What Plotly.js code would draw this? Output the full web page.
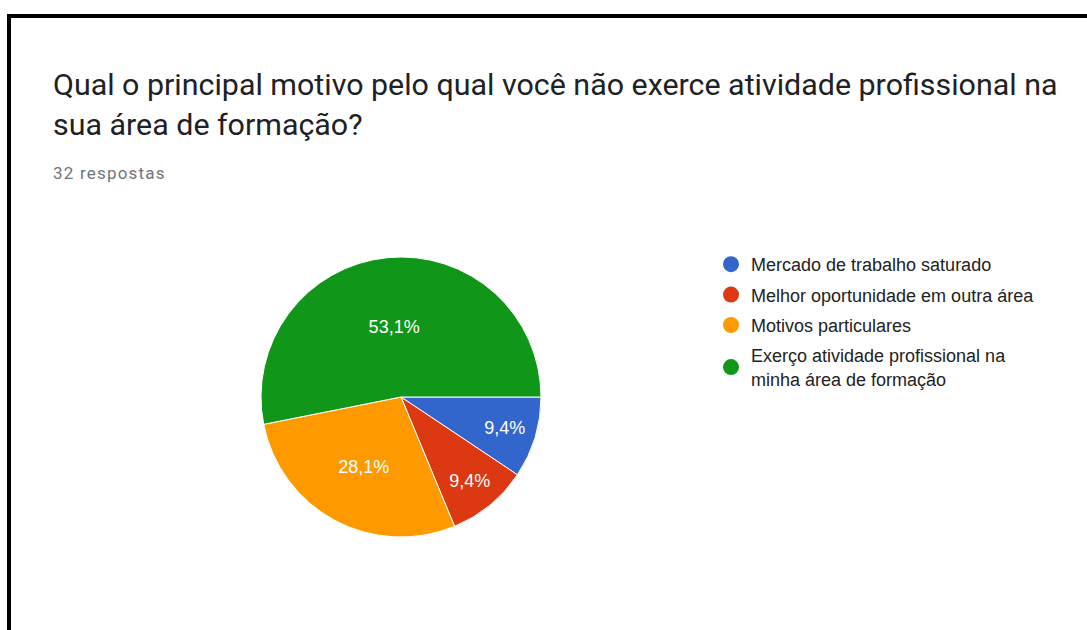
<!DOCTYPE html>
<html>
<head>
<meta charset="utf-8">
<script src="https://cdn.plot.ly/plotly-3.0.1.min.js"></script>
<style>html,body{margin:0;padding:0;background:#fff;}#chart{width:1087px;height:630px;}</style>
</head>
<body>
<div id="chart"></div>
<script>
const categories = [
  "Mercado de trabalho saturado",
  "Melhor oportunidade em outra área",
  "Motivos particulares",
  "Exerço atividade profissional na<br>minha área de formação"
];
const responses = [3, 3, 9, 17];
const colors = ["#3366cc", "#dc3912", "#ff9900", "#109618"];
const titleText = "Qual o principal motivo pelo qual você não exerce atividade profissional na<br>sua área de formação?";
const subtitleText = "32 respostas";

const W = 1087, H = 630;
const cx = 401, cy = 397, R = 140;

const pie = {
  type: "pie",
  labels: categories,
  values: responses,
  sort: false,
  direction: "clockwise",
  rotation: 90,
  marker: { colors: colors, line: { color: "#ffffff", width: 1 } },
  texttemplate: "%{percent:.1%}",
  textposition: "inside",
  insidetextorientation: "horizontal",
  textfont: { family: "Liberation Sans, Arial, sans-serif", size: 18, color: "#ffffff" },
  hoverinfo: "label+percent",
  showlegend: false,
  domain: { x: [(cx - R) / W, (cx + R) / W], y: [(H - cy - R) / H, (H - cy + R) / H] }
};

const legendTraces = categories.map((c, i) => ({
  type: "scatter",
  mode: "markers",
  x: [null], y: [null],
  name: c,
  legendgroup: "g" + i,
  marker: { color: colors[i], size: 17, symbol: "circle" },
  hoverinfo: "skip",
  showlegend: true
}));

const layout = {
  width: W, height: H,
  margin: { l: 0, r: 0, t: 0, b: 0 },
  paper_bgcolor: "#ffffff",
  plot_bgcolor: "#ffffff",
  separators: ",.",
  xaxis: { visible: false },
  yaxis: { visible: false },
  title: {
    text: titleText,
    font: { family: "Roboto, sans-serif", size: 30.4, color: "#202124" },
    x: 53 / W, xanchor: "left", xref: "container",
    y: 1 - 95 / H, yanchor: "top", yref: "container"
  },
  showlegend: true,
  legend: {
    x: 711 / W, xanchor: "left",
    y: 1 - 246 / H, yanchor: "top",
    font: { family: "Liberation Sans, Arial, sans-serif", size: 18, color: "#222222" },
    tracegroupgap: 4,
    bgcolor: "rgba(0,0,0,0)"
  },
  annotations: [{
    text: '<span style="letter-spacing:1.2px">' + subtitleText + '</span>',
    xref: "paper", yref: "paper",
    x: 51 / W, xanchor: "left",
    y: 1 - 173 / H, yanchor: "middle",
    showarrow: false,
    font: { family: "Roboto, sans-serif", size: 17, color: "#70757a" }
  }],
  shapes: [
    { type: "line", xref: "paper", yref: "paper", x0: 9 / W, x1: 1, y0: 1 - 16 / H, y1: 1 - 16 / H, line: { color: "#000000", width: 4 } },
    { type: "line", xref: "paper", yref: "paper", x0: 9 / W, x1: 9 / W, y0: 1 - 14 / H, y1: 0, line: { color: "#000000", width: 4 } }
  ]
};

Plotly.newPlot("chart", [pie].concat(legendTraces), layout, { displayModeBar: false });
</script>
</body>
</html>
